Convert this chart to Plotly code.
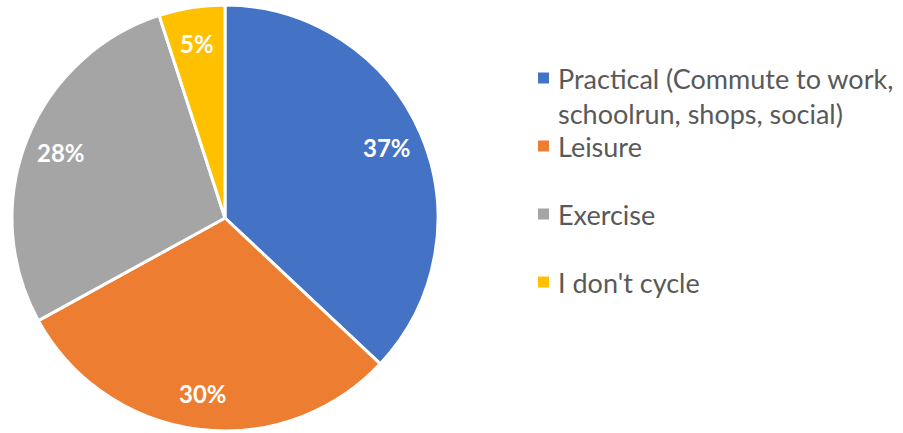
import math
import plotly.graph_objects as go

# Reasons for cycling (share of respondents, %)
categories = [
    "Practical (Commute to work,\nschoolrun, shops, social)",
    "Leisure",
    "Exercise",
    "I don't cycle",
]
values = [37, 30, 28, 5]
colors = ["#4472C4", "#ED7D31", "#A5A5A5", "#FFC000"]

W, H = 903, 433
CX, CY, R = 225, 218, 213          # pie centre and radius in pixels
LABEL_R = 0.83                     # radial position of the percentage labels

fig = go.Figure()
fig.add_trace(go.Pie(
    values=values,
    labels=[c.replace("\n", " ") for c in categories],
    marker=dict(colors=colors, line=dict(color="white", width=3)),
    sort=False,
    direction="clockwise",
    rotation=0,
    textinfo="none",
    hoverinfo="label+percent",
    showlegend=False,
    domain=dict(x=[(CX - R) / W, (CX + R) / W], y=[1 - (CY + R) / H, 1 - (CY - R) / H]),
))

annotations = []
shapes = []

# percentage labels placed at each slice's mid-angle
total = sum(values)
cum = 0.0
for v in values:
    mid = (cum + v / 2) / total * 2 * math.pi
    cum += v
    px = CX + LABEL_R * R * math.sin(mid)
    py = CY - LABEL_R * R * math.cos(mid)
    annotations.append(dict(
        x=px / W, y=1 - py / H, xref="paper", yref="paper",
        text=f"<b>{round(v / total * 100)}%</b>", showarrow=False,
        font=dict(family="Lato", size=24, color="white"),
        xanchor="center", yanchor="middle",
    ))

# legend: square swatch plus (possibly wrapped) label
legend_rows = [78, 146, 214, 282]
line_gap = 35
for cat, col, y0 in zip(categories, colors, legend_rows):
    s = 11
    shapes.append(dict(
        type="rect", xref="paper", yref="paper",
        x0=538 / W, x1=(538 + s) / W,
        y0=1 - (y0 + s / 2) / H, y1=1 - (y0 - s / 2) / H,
        fillcolor=col, line=dict(width=0),
    ))
    for i, line in enumerate(cat.split("\n")):
        annotations.append(dict(
            x=556 / W, y=1 - (y0 + i * line_gap) / H, xref="paper", yref="paper",
            text=line, showarrow=False,
            font=dict(family="Lato", size=27, color="#595959"),
            xanchor="left", yanchor="middle",
        ))

fig.update_layout(
    width=W, height=H,
    margin=dict(l=0, r=0, t=0, b=0),
    paper_bgcolor="white", plot_bgcolor="white",
    annotations=annotations, shapes=shapes,
)

fig.write_html("out.html")
